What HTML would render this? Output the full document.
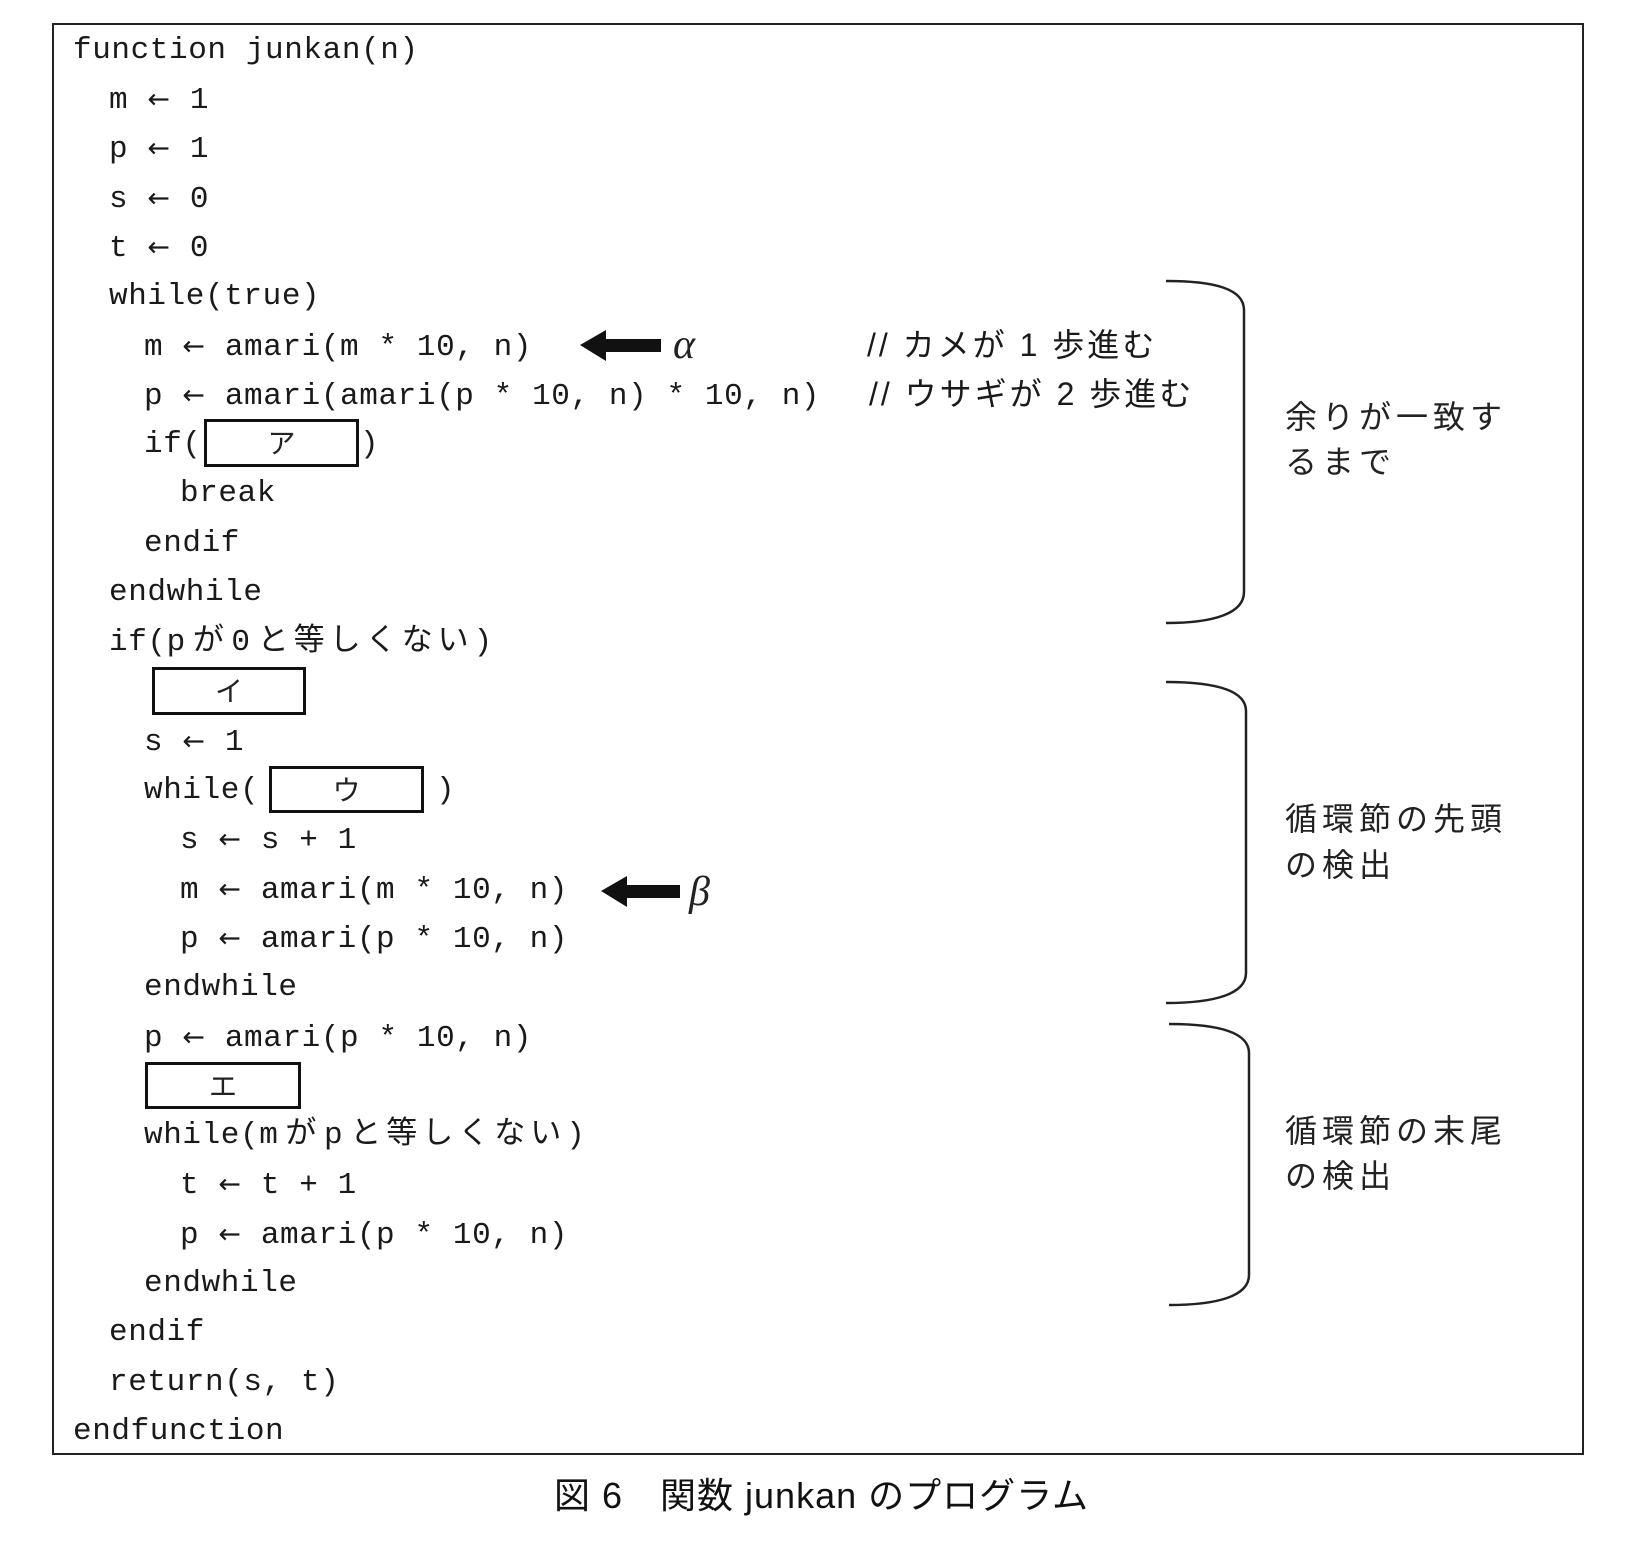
<!DOCTYPE html>
<html><head><meta charset="utf-8">
<style>
html,body{margin:0;padding:0;background:#fff;}
body{width:1638px;height:1542px;position:relative;overflow:hidden;}
.c{position:absolute;font-family:"Liberation Mono","Noto Sans CJK JP",monospace;font-size:31px;letter-spacing:0.6px;line-height:50px;height:50px;color:#1a1a1a;white-space:pre;}
.c .a{font-family:"DejaVu Sans",sans-serif;font-size:27px;}
.c .g{margin:0 7px;}
.c .k{margin-left:7px;letter-spacing:5px;}
.j{position:absolute;font-family:"Liberation Sans","Noto Sans CJK JP",sans-serif;font-size:32px;line-height:44px;color:#222;white-space:pre;letter-spacing:5px;}
.bx{position:absolute;border:3px solid #111;box-sizing:border-box;font-family:"Noto Sans CJK JP",sans-serif;font-size:28px;text-align:center;line-height:40px;color:#222;}
#frame{position:absolute;left:52px;top:23px;width:1532px;height:1432px;border:2px solid #222;box-sizing:border-box;}
</style></head><body>
<div id="frame"></div>
<div class="c" style="left:73px;top:26px">function junkan(n)</div>
<div class="c" style="left:109px;top:75px">m <span class="a">←</span> 1</div>
<div class="c" style="left:109px;top:124px">p <span class="a">←</span> 1</div>
<div class="c" style="left:109px;top:174px">s <span class="a">←</span> 0</div>
<div class="c" style="left:109px;top:223px">t <span class="a">←</span> 0</div>
<div class="c" style="left:109px;top:272px">while(true)</div>
<div class="c" style="left:144px;top:322px">m <span class="a">←</span> amari(m * 10, n)</div>
<div class="c" style="left:144px;top:371px">p <span class="a">←</span> amari(amari(p * 10, n) * 10, n)</div>
<div class="c" style="left:144px;top:420px">if(</div>
<div class="c" style="left:360px;top:420px">)</div>
<div class="bx" style="left:204px;top:419px;width:155px;height:48px">ア</div>
<div class="c" style="left:180px;top:469px">break</div>
<div class="c" style="left:144px;top:519px">endif</div>
<div class="c" style="left:109px;top:568px">endwhile</div>
<div class="c" style="left:109px;top:618px">if(p<span class="g">が</span>0<span class="k">と等しくない</span>)</div>
<div class="bx" style="left:152px;top:667px;width:154px;height:48px">イ</div>
<div class="c" style="left:144px;top:717px">s <span class="a">←</span> 1</div>
<div class="c" style="left:144px;top:766px">while(</div>
<div class="c" style="left:436px;top:766px">)</div>
<div class="bx" style="left:269px;top:766px;width:155px;height:47px">ウ</div>
<div class="c" style="left:180px;top:815px">s <span class="a">←</span> s + 1</div>
<div class="c" style="left:180px;top:865px">m <span class="a">←</span> amari(m * 10, n)</div>
<div class="c" style="left:180px;top:914px">p <span class="a">←</span> amari(p * 10, n)</div>
<div class="c" style="left:144px;top:963px">endwhile</div>
<div class="c" style="left:144px;top:1013px">p <span class="a">←</span> amari(p * 10, n)</div>
<div class="bx" style="left:145px;top:1062px;width:156px;height:47px">エ</div>
<div class="c" style="left:144px;top:1111px">while(m<span class="g">が</span>p<span class="k">と等しくない</span>)</div>
<div class="c" style="left:180px;top:1160px">t <span class="a">←</span> t + 1</div>
<div class="c" style="left:180px;top:1210px">p <span class="a">←</span> amari(p * 10, n)</div>
<div class="c" style="left:144px;top:1259px">endwhile</div>
<div class="c" style="left:109px;top:1308px">endif</div>
<div class="c" style="left:109px;top:1358px">return(s, t)</div>
<div class="c" style="left:73px;top:1407px">endfunction</div>

<div class="c" style="left:867px;top:320px;font-family:'Liberation Sans','Noto Sans CJK JP',sans-serif;font-size:32px;letter-spacing:3px">// カメが 1 歩進む</div>
<div class="c" style="left:869px;top:369px;font-family:'Liberation Sans','Noto Sans CJK JP',sans-serif;font-size:32px;letter-spacing:3px">// ウサギが 2 歩進む</div>

<svg width="1638" height="1542" style="position:absolute;left:0;top:0" xmlns="http://www.w3.org/2000/svg">
<g fill="#111">
<polygon points="580,345 606,330 606,339 661,339 661,352 606,352 606,361"/>
<polygon points="601,891 627,876 627,885 680,885 680,898 627,898 627,907"/>
</g>
<text x="673" y="358" font-family="Liberation Serif,serif" font-style="italic" font-size="42" fill="#222">α</text>
<text x="689" y="905" font-family="Liberation Serif,serif" font-style="italic" font-size="42" fill="#222">β</text>
<g fill="none" stroke="#222" stroke-width="2.5">
<path d="M1166,281 C1215,281 1244,289 1244,310 L1244,592 C1244,613 1215,623 1166,623"/>
<path d="M1166,682 C1215,682 1246,690 1246,711 L1246,973 C1246,994 1215,1003 1166,1003"/>
<path d="M1169,1024 C1218,1024 1249,1032 1249,1053 L1249,1275 C1249,1296 1218,1305 1169,1305"/>
</g>
</svg>

<div class="j" style="left:1285px;top:395px">余りが一致す</div>
<div class="j" style="left:1285px;top:440px">るまで</div>
<div class="j" style="left:1285px;top:797px">循環節の先頭</div>
<div class="j" style="left:1285px;top:843px">の検出</div>
<div class="j" style="left:1285px;top:1109px">循環節の末尾</div>
<div class="j" style="left:1285px;top:1154px">の検出</div>

<div style="position:absolute;left:554px;top:1472px;font-family:'Liberation Sans','Noto Sans CJK JP',sans-serif;font-size:36px;letter-spacing:1px;line-height:48px;color:#111;white-space:pre">図 6　関数 junkan のプログラム</div>
</body></html>
